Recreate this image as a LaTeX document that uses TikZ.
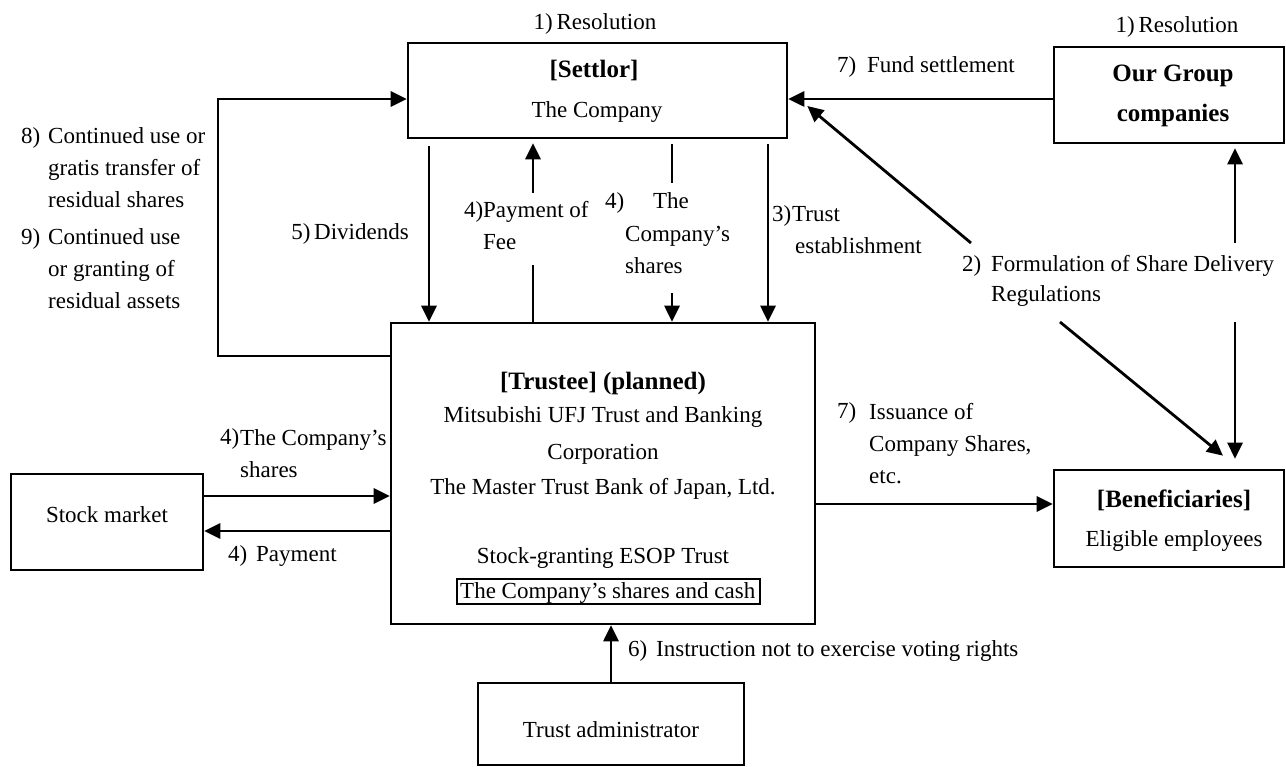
\documentclass[tikz,border=0pt]{standalone}
\usepackage{fontspec}
\setmainfont{Liberation Serif}
\usetikzlibrary{arrows.meta}
\begin{document}
\begin{tikzpicture}[x=1pt,y=-1pt,
  box/.style={draw,line width=2.6pt,inner sep=0pt},
  arr/.style={line width=2.8pt,-{Triangle[length=16pt,width=15pt]}},
  ln/.style={line width=2.8pt},
  lbl/.style={anchor=base west,inner sep=0pt},
  ctr/.style={anchor=base,inner sep=0pt},
  bld/.style={font=\fontsize{25}{32}\selectfont\bfseries},
  font=\fontsize{23}{32}\selectfont]
\useasboundingbox (0,0) rectangle (1286,767);

% boxes
\node[box,minimum width=379pt,minimum height=95pt] (settlor) at (597.5,90.5) {};
\node[box,minimum width=230pt,minimum height=96pt] (group) at (1169,95) {};
\node[box,minimum width=424pt,minimum height=301pt] (trustee) at (603,473.5) {};
\node[box,minimum width=192pt,minimum height=96pt] (stock) at (107,522) {};
\node[box,minimum width=230pt,minimum height=97pt] (benef) at (1169,518.5) {};
\node[box,minimum width=266pt,minimum height=82pt] (admin) at (611,724) {};
\node[draw,line width=1.8pt,inner sep=0pt,minimum width=303pt,minimum height=25pt] (cash) at (608.5,591.5) {};

% box texts
\node[ctr,bld] (t1) at (594,78) {[Settlor]};
\node[ctr] (t2) at (597,118) {The Company};
\node[ctr,bld] (t3) at (1173,82) {Our Group};
\node[ctr,bld] (t4) at (1173,122) {companies};
\node[ctr,bld] (t5) at (603,390) {[Trustee] (planned)};
\node[ctr] (t6) at (603,423) {Mitsubishi UFJ Trust and Banking};
\node[ctr] (t7) at (603,459) {Corporation};
\node[ctr] (t8) at (603,494) {The Master Trust Bank of Japan, Ltd.};
\node[ctr] (t9) at (603,563) {Stock-granting ESOP Trust};
\node[lbl] (t10) at (460,598) {The Company’s shares and cash};
\node[ctr] (t11) at (107,522) {Stock market};
\node[ctr,bld] (t12) at (1174,507) {[Beneficiaries]};
\node[ctr] (t13) at (1174,546) {Eligible employees};
\node[ctr] (t14) at (611,737) {Trust administrator};

% labels
\node[ctr] (r1) at (595,30) {1)\,Resolution};
\node[ctr] (r2) at (1177,33) {1)\,Resolution};
\node[lbl] (l7a) at (837,73) {7)};
\node[lbl] (l7b) at (867,73) {Fund settlement};
\node[lbl] (l8) at (21,144) {8)};
\node[lbl,align=left] (l8t) at (48,208) {Continued use or\\gratis transfer of\\residual shares};
\node[lbl] (l9) at (21,245) {9)};
\node[lbl,align=left] (l9t) at (48,309) {Continued use\\or granting of\\residual assets};
\node[anchor=base east,inner sep=0pt] (l5) at (409,240) {5)\,Dividends};
\node[lbl] (l4a) at (464,218) {4)};
\node[lbl,align=left] (l4at) at (483,250) {Payment of\\Fee};
\node[lbl] (l4b) at (605,209) {4)};
\node[ctr] (l4bt) at (671,209) {The};
\node[lbl,align=left] (l4bt2) at (625,274) {Company’s\\shares};
\node[lbl] (l3) at (772,222) {3)};
\node[lbl] (l3t) at (792,222) {Trust};
\node[lbl] (l3t2) at (795,254) {establishment};
\node[lbl] (l2) at (962,272) {2)};
\node[lbl,align=left] (l2t) at (991,302) {Formulation of Share Delivery\\[-2pt]Regulations};
\node[lbl] (l4c) at (220,445) {4)};
\node[lbl,align=left] (l4ct) at (240,477) {The Company’s\\shares};
\node[lbl] (l4d) at (228,561) {4)};
\node[lbl] (l4dt) at (256,561) {Payment};
\node[lbl] (l7c) at (837,419) {7)};
\node[lbl,align=left] (l7ct) at (869,483) {Issuance of\\Company Shares,\\etc.};
\node[lbl] (l6) at (628,656) {6)};
\node[lbl] (l6t) at (656,656) {Instruction not to exercise voting rights};

% connectors
\draw[arr] (group.west |- 0,99) -- (settlor.east |- 0,99);
\draw[arr] (trustee.west |- 0,356) -- (218,356) -- (218,99) -- (settlor.west |- 0,99);
\draw[arr,shorten <=7pt] (settlor.south -| 429,0) -- (trustee.north -| 429,0);
\draw[ln] (trustee.north -| 533,0) -- (533,265);
\draw[arr,shorten >=4pt] (533,193) -- (settlor.south -| 533,0);
\draw[ln,shorten <=5pt] (settlor.south -| 672,0) -- (672,183);
\draw[arr] (672,293) -- (trustee.north -| 672,0);
\draw[arr,shorten <=5pt] (settlor.south -| 768,0) -- (trustee.north -| 768,0);
\coordinate (f1) at (971,243);
\coordinate (f2) at (1060,322);
\coordinate (f3) at (1235,243);
\coordinate (f4) at (1235,322);
\draw[arr] (f1) -- ([shift={(19,15.5)}]settlor.east);
\draw[arr] (f2) -- ([shift={(54,-13)}]benef.north);
\draw[arr,shorten >=4pt] (f3) -- (group.south -| f3);
\draw[arr,shorten >=10pt] (f4) -- (benef.north -| f4);
\draw[arr] (stock.east |- 0,496) -- (trustee.west |- 0,496);
\draw[arr] (trustee.west |- 0,531) -- (stock.east |- 0,531);
\draw[arr] (trustee.east |- 0,504) -- (benef.west |- 0,504);
\draw[arr] (admin.north) -- (trustee.south -| admin.north);
\end{tikzpicture}
\end{document}
